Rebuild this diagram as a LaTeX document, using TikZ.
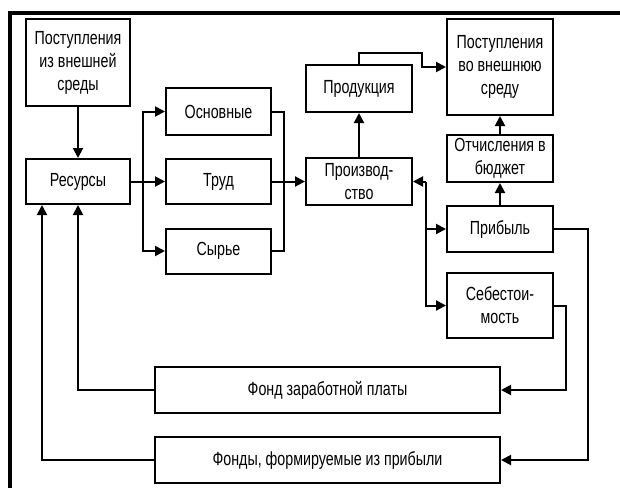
\documentclass[tikz,border=0pt]{standalone}
\usepackage{fontspec}
\setmainfont{Liberation Sans}[FakeStretch=0.75]
\usetikzlibrary{arrows.meta}
\tikzset{
  box/.style={draw, line width=2pt, inner sep=0pt, align=center, font=\fontsize{19}{23}\selectfont},
  arr/.style={line width=2pt, -{Triangle[length=10pt,width=10pt]}},
  ln/.style={line width=2pt},
  frame/.style={line width=4pt}
}
\begin{document}
\begin{tikzpicture}[x=1pt,y=-1pt]
\useasboundingbox (0,0) rectangle (620,488);
\fill[white] (0,0) rectangle (620,488);
\draw[frame] (620,13) -- (9.5,13) -- (9.5,488);
\node[box, minimum width=104pt, minimum height=87pt] (in) at (78,62.5) {Поступления\\из внешней\\среды};
\node[box, minimum width=104pt, minimum height=45pt] (res) at (78,181.5) {Ресурсы};
\node[box, minimum width=105pt, minimum height=47pt] (osn) at (218.5,111.5) {Основные};
\node[box, minimum width=105pt, minimum height=45pt] (trud) at (218.5,181.5) {Труд};
\node[box, minimum width=105pt, minimum height=45pt] (syr) at (218.5,251) {Сырье};
\node[box, minimum width=106pt, minimum height=47pt] (prod) at (359,88.5) {Продукция};
\node[box, minimum width=106pt, minimum height=47pt] (proizv) at (359,181.5) {Производ-\\ство};
\node[box, minimum width=106pt, minimum height=96pt] (out) at (500,67) {Поступления\\во внешнюю\\среду};
\node[box, minimum width=106pt, minimum height=47pt] (otch) at (500,158.5) {Отчисления в\\бюджет};
\node[box, minimum width=106pt, minimum height=46pt] (prib) at (500,229) {Прибыль};
\node[box, minimum width=106pt, minimum height=65pt] (seb) at (500,305.5) {Себестои-\\мость};
\node[box, minimum width=345pt, minimum height=46pt] (fzp) at (327.5,390) {Фонд заработной платы};
\node[box, minimum width=345pt, minimum height=46pt] (fpr) at (327.5,460) {Фонды, формируемые из прибыли};
\coordinate (fork) at (143,181.5);
\coordinate (merge) at (284,181.5);
\coordinate (rt) at (426,181.5);
\coordinate (rb) at (426,229);
\coordinate (pu) at (359,53);
\coordinate (pr) at (422,53);
\coordinate (pibr) at (588,229);
\coordinate (sebr) at (566,305.5);
\draw[arr] (in) -- (res);
\draw[arr] (res) -- (trud);
\draw[arr] (fork) |- (osn.west);
\draw[arr] (fork) |- (syr.west);
\draw[ln] (osn.east) -| (merge) |- (syr.east);
\draw[arr] (trud) -- (proizv);
\draw[arr] (proizv) -- (prod);
\draw[arr] (prod.north) -- (pu) -- (pr) |- (out.west);
\draw[arr] (otch) -- (out);
\draw[arr] (prib) -- (otch);
\draw[arr] (rt) -- (proizv.east);
\draw[arr] (rt) |- (seb.west);
\draw[arr] (rb) -- (prib.west);
\draw[arr] (prib.east) -- (pibr) |- (fpr.east);
\draw[arr] (seb.east) -- (sebr) |- (fzp.east);
\draw[arr] (fzp.west) -| (res.south);
\draw[arr] (fpr.west) -| ([xshift=-36pt]res.south);
\end{tikzpicture}
\end{document}
